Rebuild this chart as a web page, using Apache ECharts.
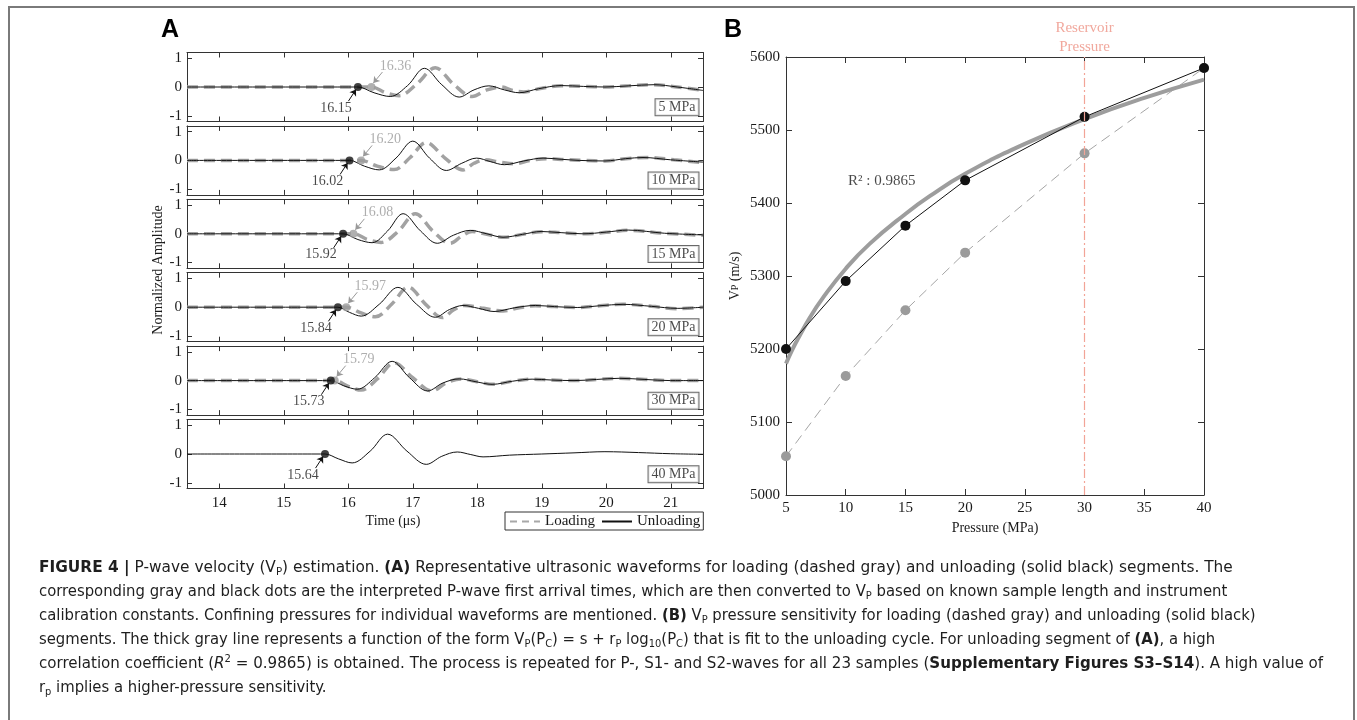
<!DOCTYPE html>
<html><head><meta charset="utf-8">
<script src="https://cdn.jsdelivr.net/npm/echarts@6/dist/echarts.min.js"></script>
<style>html,body{margin:0;padding:0;background:#fff}#c{width:1357px;height:720px}</style>
</head><body><div id="c"></div>
<script>
// ---------------- DATA ----------------
const panelLabels = ['5 MPa', '10 MPa', '15 MPa', '20 MPa', '30 MPa', '40 MPa'];
const arrivalUnloading = [16.15, 16.02, 15.92, 15.84, 15.73, 15.64];
const arrivalLoading = [16.36, 16.20, 16.08, 15.97, 15.79, null];
const timeTicks = [14, 15, 16, 17, 18, 19, 20, 21];
const ampTicks = [-1, 0, 1];

const unload5 = [[13.5,0],[16.0,0],[16.15,0],[16.4,-0.2],[16.65,-0.33],[16.92,0.05],[17.18,0.65],[17.45,0.08],[17.72,-0.35],[17.95,-0.1],[18.18,0.04],[18.42,-0.1],[18.65,-0.2],[18.95,-0.06],[19.3,0.05],[19.65,0.02],[19.98,0],[20.35,0.04],[20.74,0.08],[21.1,0.0],[21.5,-0.12]];
const load5 = [[13.5,0],[16.2,0],[16.36,0],[16.58,-0.2],[16.79,-0.3],[17.06,0.1],[17.35,0.67],[17.63,0.1],[17.92,-0.33],[18.15,-0.1],[18.37,0.0],[18.55,-0.12],[18.72,-0.17],[19.0,-0.04],[19.3,0.04],[19.65,0.02],[19.98,0],[20.35,0.04],[20.72,0.08],[21.1,0.0],[21.5,-0.12]];
const unload10 = [[13.5,0],[15.88,0],[16.02,0],[16.25,-0.2],[16.48,-0.33],[16.74,0.08],[17.0,0.67],[17.26,0.08],[17.52,-0.35],[17.76,-0.1],[17.99,0.08],[18.2,-0.04],[18.42,-0.15],[18.72,-0.02],[19.02,0.08],[19.3,0.04],[19.58,0],[19.98,-0.02],[20.3,0.06],[20.57,0.1],[21.0,0.02],[21.5,-0.06]];
const load10 = [[13.5,0],[16.05,0],[16.2,0],[16.45,-0.2],[16.71,-0.32],[16.96,0.1],[17.21,0.62],[17.5,0.08],[17.78,-0.33],[17.95,-0.1],[18.12,0.02],[18.35,-0.06],[18.57,-0.12],[18.82,0.0],[19.07,0.06],[19.35,0.03],[19.65,0],[19.98,-0.02],[20.3,0.06],[20.65,0.1],[21.05,0.02],[21.5,-0.08]];
const unload15 = [[13.5,0],[15.78,0],[15.92,0],[16.15,-0.2],[16.37,-0.31],[16.61,0.1],[16.85,0.7],[17.12,0.1],[17.38,-0.33],[17.63,-0.05],[17.89,0.12],[18.15,0.0],[18.4,-0.12],[18.7,-0.02],[18.99,0.08],[19.3,0.04],[19.64,0],[20.0,0.06],[20.34,0.13],[20.9,0.02],[21.5,-0.04]];
const load15 = [[13.5,0],[15.93,0],[16.08,0],[16.3,-0.2],[16.51,-0.3],[16.78,0.1],[17.04,0.7],[17.31,0.1],[17.58,-0.33],[17.76,-0.08],[17.92,0.08],[18.15,-0.02],[18.42,-0.12],[18.7,-0.02],[19.0,0.07],[19.3,0.04],[19.64,0],[20.0,0.05],[20.34,0.12],[20.9,0.02],[21.5,-0.05]];
const unload20 = [[13.5,0],[15.7,0],[15.84,0],[16.02,-0.18],[16.2,-0.31],[16.48,0.1],[16.77,0.69],[17.06,0.1],[17.35,-0.35],[17.57,-0.08],[17.78,0.06],[18.02,-0.04],[18.26,-0.15],[18.58,-0.02],[18.9,0.06],[19.2,0.02],[19.55,-0.01],[19.9,0.05],[20.26,0.1],[20.7,0.03],[21.1,-0.04],[21.5,0]];
const load20 = [[13.5,0],[15.82,0],[15.97,0],[16.2,-0.2],[16.42,-0.33],[16.68,0.12],[16.93,0.7],[17.2,0.1],[17.46,-0.36],[17.63,-0.1],[17.8,0.06],[18.1,-0.04],[18.4,-0.13],[18.65,-0.02],[18.9,0.05],[19.2,0.02],[19.55,-0.01],[19.9,0.05],[20.26,0.1],[20.7,0.03],[21.1,-0.05],[21.5,0]];
const unload30 = [[13.5,0],[15.6,0],[15.73,0],[15.93,-0.18],[16.14,-0.3],[16.41,0.1],[16.68,0.67],[16.95,0.1],[17.23,-0.36],[17.47,-0.08],[17.72,0.06],[17.98,-0.04],[18.23,-0.13],[18.55,-0.02],[18.85,0.05],[19.15,0.02],[19.5,0],[19.85,0.04],[20.2,0.08],[20.6,0.04],[21.0,0.0],[21.5,0.0]];
const load30 = [[13.5,0],[15.65,0],[15.79,0],[16.0,-0.2],[16.2,-0.33],[16.46,0.08],[16.71,0.62],[17.0,0.1],[17.3,-0.36],[17.52,-0.08],[17.75,0.06],[18.0,-0.04],[18.25,-0.13],[18.55,-0.02],[18.85,0.05],[19.15,0.02],[19.5,0],[19.85,0.04],[20.2,0.08],[20.6,0.04],[21.0,0.0],[21.5,0.0]];
const unload40 = [[13.5,0],[15.5,0],[15.64,0],[15.85,-0.17],[16.06,-0.31],[16.34,0.1],[16.61,0.69],[16.91,0.1],[17.21,-0.36],[17.45,-0.08],[17.69,0.07],[17.9,-0.02],[18.09,-0.1],[18.5,-0.04],[19.0,0.0],[19.5,0.04],[19.98,0.08],[20.5,0.05],[21.0,0.01],[21.5,-0.01]];

const pressureB = [5, 10, 15, 20, 30, 40];
const vpLoading = [5053, 5163, 5253, 5332, 5468, 5585];
const vpUnloading = [5200, 5293, 5369, 5431, 5518, 5585];
const fitPressure = [5, 5.5, 6, 7, 8, 10, 12, 15, 17, 20, 25, 30, 35, 40];
const fitVp = [5180, 5198, 5214, 5243, 5268, 5310, 5344, 5385, 5409, 5440, 5481, 5515, 5544, 5569];
const reservoirPressure = 30;
const r2Text = 'R² : 0.9865';

const captionLines = [
  '{b|FIGURE 4 |} P-wave velocity (V{sub|P}) estimation. {b|(A)} Representative ultrasonic waveforms for loading (dashed gray) and unloading (solid black) segments. The',
  'corresponding gray and black dots are the interpreted P-wave first arrival times, which are then converted to V{sub|P} based on known sample length and instrument',
  'calibration constants. Confining pressures for individual waveforms are mentioned. {b|(B)} V{sub|P} pressure sensitivity for loading (dashed gray) and unloading (solid black)',
  'segments. The thick gray line represents a function of the form V{sub|P}(P{sub|C}) = s + r{sub|P} log{sub|10}(P{sub|C}) that is fit to the unloading cycle. For unloading segment of {b|(A)}, a high',
  'correlation coefficient ({i|R}{sup|2} = 0.9865) is obtained. The process is repeated for P-, S1- and S2-waves for all 23 samples ({b|Supplementary Figures S3–S14}). A high value of',
  'r{sub|p} implies a higher-pressure sensitivity.'
];

// ---------------- CHART ----------------
const unloadCurves = [unload5, unload10, unload15, unload20, unload30, unload40];
const loadCurves = [load5, load10, load15, load20, load30, null];

const SERIF = "'Liberation Serif','Times New Roman',serif";
const SANS_N = "'Liberation Sans Narrow','Arial Narrow','DejaVu Sans Condensed','Liberation Sans',sans-serif";
const TXT = '#1a1a1a';
const AX = '#333';
const GRAY = '#a2a2a2';

const grids = [];
for (let i = 0; i < 6; i++) grids.push({left: 187, width: 516, top: 52.5 + 73.4 * i, height: 69});
grids.push({left: 786, width: 418, top: 57, height: 438});

const tickStyle = {inside: true, length: 5, lineStyle: {color: AX, width: 1}};
const lineStyleAx = {onZero: false, lineStyle: {color: AX, width: 1}};
const plain = v => String(v);
const xAxes = [], yAxes = [];
for (let i = 0; i < 6; i++) {
  xAxes.push({gridIndex: i, type: 'value', min: 13.5, max: 21.5, position: 'bottom',
    axisLine: lineStyleAx, axisTick: Object.assign({customValues: timeTicks}, tickStyle),
    axisLabel: {show: i === 5, customValues: timeTicks, formatter: plain, fontFamily: SERIF, fontSize: 15, color: TXT, margin: 7},
    splitLine: {show: false}});
  yAxes.push({gridIndex: i, type: 'value', min: -1.2, max: 1.2, position: 'left',
    axisLine: lineStyleAx, axisTick: Object.assign({customValues: ampTicks}, tickStyle),
    axisLabel: {customValues: ampTicks, formatter: plain, fontFamily: SERIF, fontSize: 15, color: TXT, margin: 5},
    splitLine: {show: false}});
}
xAxes.push({gridIndex: 6, type: 'value', min: 5, max: 40, interval: 5, position: 'bottom',
  axisLine: lineStyleAx, axisTick: Object.assign({}, tickStyle, {length: 6}),
  axisLabel: {formatter: plain, fontFamily: SERIF, fontSize: 15, color: TXT, margin: 6},
  splitLine: {show: false},
  name: 'Pressure (MPa)', nameLocation: 'middle', nameGap: 14,
  nameTextStyle: {fontFamily: SERIF, fontSize: 14, color: TXT}});
yAxes.push({gridIndex: 6, type: 'value', min: 5000, max: 5600, interval: 100, position: 'left',
  axisLine: lineStyleAx, axisTick: Object.assign({}, tickStyle, {length: 6}),
  axisLabel: {formatter: plain, fontFamily: SERIF, fontSize: 15, color: TXT, margin: 6},
  splitLine: {show: false},
  name: 'V{s|P} (m/s)', nameLocation: 'middle', nameGap: 44, nameRotate: 90,
  nameTextStyle: {fontFamily: SERIF, fontSize: 14, color: TXT, rich: {s: {fontFamily: SERIF, fontSize: 10, color: TXT}}}});
// mirror axes (top / right) for the boxed look
for (let i = 0; i < 7; i++) {
  const bx = xAxes[i], by = yAxes[i];
  xAxes.push({gridIndex: i, type: 'value', min: bx.min, max: bx.max, interval: bx.interval, position: 'top',
    axisLine: lineStyleAx, axisTick: bx.axisTick, axisLabel: {show: false}, splitLine: {show: false}});
  yAxes.push({gridIndex: i, type: 'value', min: by.min, max: by.max, interval: by.interval, position: 'right',
    axisLine: lineStyleAx, axisTick: by.axisTick, axisLabel: {show: false}, splitLine: {show: false}});
}

const series = [];
for (let i = 0; i < 6; i++) {
  if (loadCurves[i]) {
    series.push({name: 'Loading', type: 'line', xAxisIndex: i, yAxisIndex: i, data: loadCurves[i],
      smooth: 0.35, symbol: 'none', z: 2, silent: true,
      itemStyle: {color: GRAY}, lineStyle: {color: GRAY, width: 3.5, type: [11, 6]}});
  }
}
for (let i = 0; i < 6; i++) {
  const tU = arrivalUnloading[i], tL = arrivalLoading[i];
  const arrows = [[{coord: [tU - 0.147, -0.49], lineStyle: {color: '#111'}}, {coord: [tU - 0.03, -0.087]}]];
  if (tL !== null) arrows.push([{coord: [tL + 0.17, 0.52], lineStyle: {color: '#999'}}, {coord: [tL + 0.03, 0.14]}]);
  series.push({name: 'Unloading', type: 'line', xAxisIndex: i, yAxisIndex: i, data: unloadCurves[i],
    smooth: 0.35, symbol: 'none', z: 3, silent: true,
    itemStyle: {color: '#111'}, lineStyle: {color: '#111', width: 1},
    markLine: {silent: true, animation: false, symbol: ['none', 'arrow'], symbolSize: 6,
      label: {show: false}, lineStyle: {width: 1, type: 'solid'}, data: arrows}});
  if (tL !== null) {
    series.push({name: 'arrL' + i, type: 'scatter', xAxisIndex: i, yAxisIndex: i, data: [[tL, 0]],
      symbolSize: 8, z: 4, silent: true, itemStyle: {color: '#9c9c9c'},
      label: {show: true, position: 'inside', offset: [24, -21], formatter: p => p.value[0].toFixed(2),
        fontFamily: SERIF, fontSize: 14, color: '#9a9a9a'}});
  }
  series.push({name: 'arrU' + i, type: 'scatter', xAxisIndex: i, yAxisIndex: i, data: [[tU, 0]],
    symbolSize: 8, z: 5, silent: true, itemStyle: {color: '#111'},
    label: {show: true, position: 'inside', offset: [-22, 21], formatter: p => p.value[0].toFixed(2),
      fontFamily: SERIF, fontSize: 14, color: TXT}});
  series.push({name: 'lab' + i, type: 'scatter', xAxisIndex: i, yAxisIndex: i, data: [[21.43, -0.7]],
    symbolSize: 0, z: 6, silent: true,
    label: {show: true, position: 'left', distance: 0, formatter: panelLabels[i],
      fontFamily: SERIF, fontSize: 14, color: TXT, backgroundColor: '#fff',
      borderColor: '#444', borderWidth: 1, padding: [2, 3, 0, 3]}});
}
// panel B
series.push({name: 'Loading B', type: 'line', xAxisIndex: 6, yAxisIndex: 6,
  data: pressureB.map((p, k) => [p, vpLoading[k]]), symbol: 'circle', symbolSize: 10, z: 2, silent: true,
  itemStyle: {color: '#9b9b9b'}, lineStyle: {color: '#a5a5a5', width: 1, type: [10, 6]},
  markLine: {silent: true, animation: false, symbol: ['none', 'none'],
    lineStyle: {color: '#f2a497', width: 1.2, type: [9, 3, 2, 3]},
    label: {show: true, position: 'end', distance: 0, formatter: 'Reservoir\nPressure',
      fontFamily: SERIF, fontSize: 15, lineHeight: 19, color: '#f1a89d'},
    data: [{xAxis: reservoirPressure}]}});
series.push({name: 'Fit', type: 'line', xAxisIndex: 6, yAxisIndex: 6,
  data: fitPressure.map((p, k) => [p, fitVp[k]]), smooth: true, symbol: 'none', z: 3, silent: true,
  itemStyle: {color: '#9d9d9d'}, lineStyle: {color: '#9d9d9d', width: 4}});
series.push({name: 'Unloading B', type: 'line', xAxisIndex: 6, yAxisIndex: 6,
  data: pressureB.map((p, k) => [p, vpUnloading[k]]), symbol: 'circle', symbolSize: 10, z: 4, silent: true,
  itemStyle: {color: '#111'}, lineStyle: {color: '#111', width: 1}});
series.push({name: 'R2', type: 'scatter', xAxisIndex: 6, yAxisIndex: 6, data: [[10.2, 5430]],
  symbolSize: 0, silent: true,
  label: {show: true, position: 'right', distance: 0, formatter: r2Text, fontFamily: SERIF, fontSize: 15, color: TXT}});

const graphic = [
  {type: 'rect', silent: true, shape: {x: 9, y: 7, width: 1345, height: 740},
    style: {fill: 'none', stroke: '#7a7a7a', lineWidth: 2}},
  {type: 'text', silent: true, x: 161, y: 18, style: {text: 'A', fontFamily: "'Liberation Sans',Arial,sans-serif", fontWeight: 'bold', fontSize: 25, fill: '#000'}},
  {type: 'text', silent: true, x: 724, y: 18, style: {text: 'B', fontFamily: "'Liberation Sans',Arial,sans-serif", fontWeight: 'bold', fontSize: 25, fill: '#000'}},
  {type: 'text', silent: true, x: 158, y: 270, rotation: Math.PI / 2,
    style: {text: 'Normalized Amplitude', fontFamily: SERIF, fontSize: 14, fill: TXT,
      align: 'center', verticalAlign: 'middle', textAlign: 'center', textVerticalAlign: 'middle'}},
  {type: 'text', silent: true, x: 393, y: 521,
    style: {text: 'Time (μs)', fontFamily: SERIF, fontSize: 14, fill: TXT,
      align: 'center', verticalAlign: 'middle', textAlign: 'center', textVerticalAlign: 'middle'}}
];
const capRich = {
  b: {fontFamily: SANS_N, fontSize: 16.5, fontWeight: 'bold', fill: '#1e1e1e', color: '#1e1e1e', lineHeight: 20},
  i: {fontFamily: SANS_N, fontSize: 16.5, fontStyle: 'italic', fill: '#1e1e1e', color: '#1e1e1e', lineHeight: 20},
  sub: {fontFamily: SANS_N, fontSize: 11, fill: '#1e1e1e', color: '#1e1e1e', lineHeight: 12, verticalAlign: 'bottom'},
  sup: {fontFamily: SANS_N, fontSize: 11, fill: '#1e1e1e', color: '#1e1e1e', lineHeight: 12, verticalAlign: 'top'}
};
const capScale = [1.0356, 1, 1, 1, 1.0166, 1];
captionLines.forEach((t, k) => {
  graphic.push({type: 'text', silent: true, x: 39, y: 568 + 24 * k, scaleX: capScale[k],
    style: {text: t, rich: capRich, fontFamily: SANS_N, fontSize: 16.5, fill: '#1e1e1e', lineHeight: 20,
      align: 'left', verticalAlign: 'middle', textAlign: 'left', textVerticalAlign: 'middle'}});
});

const chart = echarts.init(document.getElementById('c'));
chart.setOption({
  animation: false,
  backgroundColor: '#fff',
  textStyle: {fontFamily: SERIF},
  grid: grids,
  xAxis: xAxes,
  yAxis: yAxes,
  legend: {
    data: [
      {name: 'Loading', lineStyle: {type: [7, 5], width: 2, color: '#a8a8a8'}},
      {name: 'Unloading', lineStyle: {width: 2, color: '#111'}}
    ],
    left: 505, top: 512, orient: 'horizontal',
    itemWidth: 30, itemHeight: 14, itemGap: 6, padding: [2, 3, 1, 4],
    borderColor: '#333', borderWidth: 1, selectedMode: false,
    itemStyle: {opacity: 0},
    textStyle: {fontFamily: SERIF, fontSize: 15, color: TXT}},
  series: series,
  graphic: graphic
});
</script>
</body></html>
